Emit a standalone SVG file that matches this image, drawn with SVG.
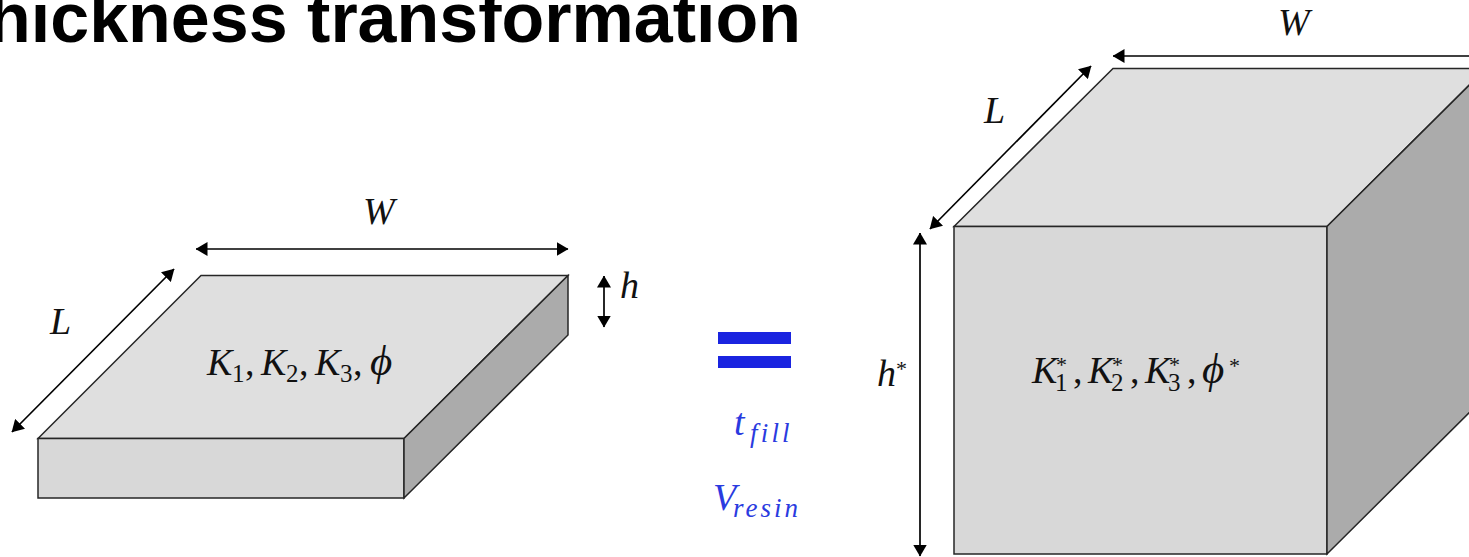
<svg xmlns="http://www.w3.org/2000/svg" width="1469" height="557" viewBox="0 0 1469 557">
<defs>
<marker id="a" viewBox="0 0 12 14" refX="11.5" refY="7" markerWidth="12" markerHeight="14" markerUnits="userSpaceOnUse" orient="auto-start-reverse"><path d="M0 0L12 7L0 14Z" fill="#000"/></marker>
</defs>
<style>
.e{stroke:#262626;stroke-width:1.5;stroke-linejoin:miter}
.t{fill:#dfdfdf}.f{fill:#d8d8d8}.s{fill:#ababab}
.c{stroke:#000;stroke-width:1.7;fill:none;marker-start:url(#a);marker-end:url(#a)}
.m{font-family:"Liberation Serif",serif;font-style:italic;font-size:38px;fill:#111}
.b{fill:#2a3be0}
.sub{font-size:25px;font-style:normal}
.sup{font-size:22px;font-style:normal}
.bs{font-size:27px}
.p{font-size:43px}
</style>
<rect width="1469" height="557" fill="#fff"/>
<text id="title" x="-12" y="42" font-family="Liberation Sans, Arial, sans-serif" font-weight="700" font-size="70" fill="#000">hickness transformation</text>
<g id="slab">
<path class="e t" d="M38 438.5L201 275.5H568L404 438.5Z"/>
<path class="e f" d="M38 438.5H404V498H38Z"/>
<path class="e s" d="M404 438.5L568 275.5V335L404 498Z"/>
</g>
<g id="cube">
<path class="e t" d="M954 226.5L1113 68.5H1486L1327 226.5Z"/>
<path class="e f" d="M954 226.5H1327V554H954Z"/>
<path class="e s" d="M1327 226.5L1486 68.5V396L1327 554Z"/>
</g>
<g id="connectors">
<path class="c" d="M196 249H568"/>
<path class="c" d="M604 276V327"/>
<path class="c" d="M174 269L12 432"/>
<path class="c" d="M1113 56H1490"/>
<path class="c" d="M1091 66L930 229"/>
<path class="c" d="M920 233V556"/>
</g>
<g id="equals"><rect x="718" y="332" width="73" height="12" fill="#1a24e0"/><rect x="718" y="356" width="73" height="12" fill="#1a24e0"/></g>
<g id="labels">
<text class="m" x="363" y="224">W</text>
<text class="m" x="50" y="334">L</text>
<text class="m" x="620" y="298">h</text>
<text class="m" y="375"><tspan x="207">K</tspan><tspan class="sub" x="232" y="382">1</tspan><tspan x="245" y="375" font-style="normal">,</tspan><tspan x="261">K</tspan><tspan class="sub" x="286" y="382">2</tspan><tspan x="299" y="375" font-style="normal">,</tspan><tspan x="315">K</tspan><tspan class="sub" x="340" y="382">3</tspan><tspan x="353" y="375" font-style="normal">,</tspan><tspan class="p" x="370">ϕ</tspan></text>
<text class="m" x="1278" y="35">W</text>
<text class="m" x="984" y="123">L</text>
<text class="m" x="877" y="386">h<tspan class="sup" x="896" y="376">*</tspan></text>
<text class="m" y="383"><tspan x="1032">K</tspan><tspan class="sup" x="1056" y="372">*</tspan><tspan class="sub" x="1055" y="391">1</tspan><tspan x="1073" y="383" font-style="normal">,</tspan><tspan x="1088">K</tspan><tspan class="sup" x="1112" y="372">*</tspan><tspan class="sub" x="1111" y="391">2</tspan><tspan x="1130" y="383" font-style="normal">,</tspan><tspan x="1145">K</tspan><tspan class="sup" x="1169" y="372">*</tspan><tspan class="sub" x="1168" y="391">3</tspan><tspan x="1187" y="383" font-style="normal">,</tspan><tspan class="p" x="1202">ϕ</tspan><tspan class="sup" x="1229" y="373">*</tspan></text>
<text class="m b" x="734" y="435">t<tspan class="bs" x="750" y="442" letter-spacing="3.2">fill</tspan></text>
<text class="m b" x="713" y="510">V<tspan class="bs" x="733" y="517" letter-spacing="3">resin</tspan></text>
</g>
</svg>
